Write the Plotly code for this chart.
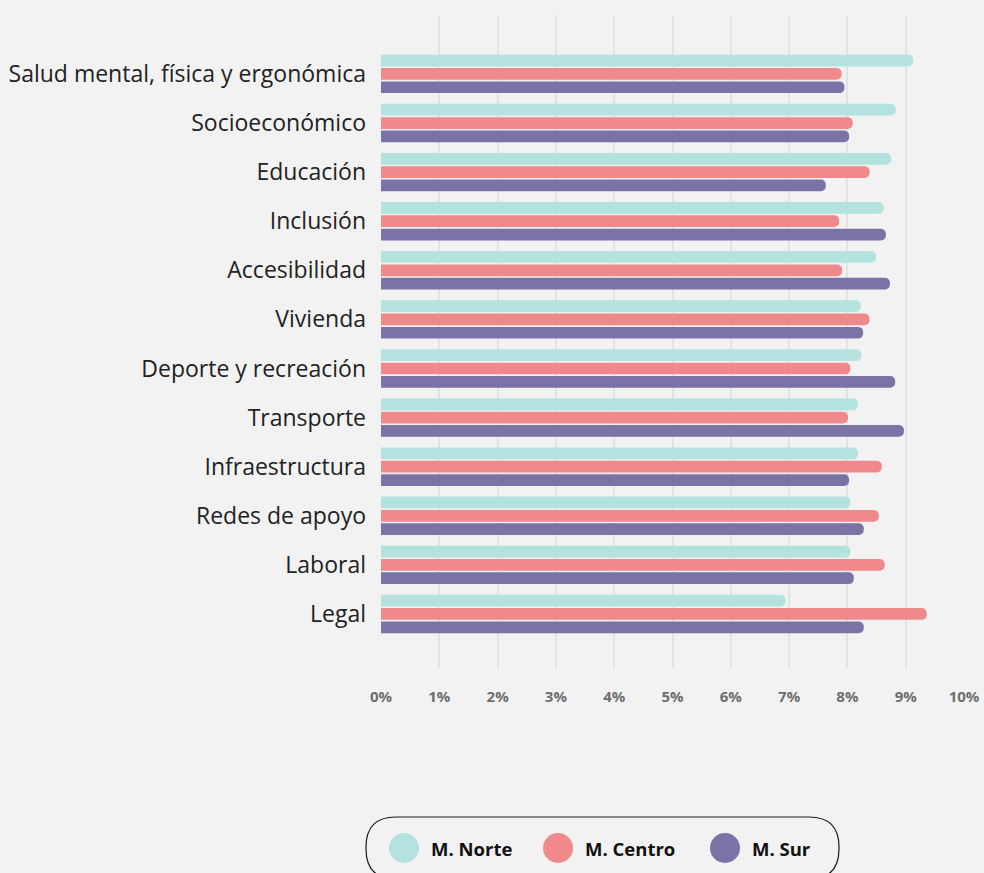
import plotly.graph_objects as go

# Categories (top to bottom) and shares per region, in %
categories = [
    "Salud mental, física y ergonómica",
    "Socioeconómico",
    "Educación",
    "Inclusión",
    "Accesibilidad",
    "Vivienda",
    "Deporte y recreación",
    "Transporte",
    "Infraestructura",
    "Redes de apoyo",
    "Laboral",
    "Legal",
]
norte = [9.13, 8.83, 8.75, 8.62, 8.49, 8.23, 8.24, 8.18, 8.18, 8.05, 8.05, 6.94]
centro = [7.90, 8.09, 8.38, 7.86, 7.91, 8.38, 8.05, 8.01, 8.59, 8.54, 8.64, 9.36]
sur = [7.95, 8.03, 7.63, 8.66, 8.73, 8.27, 8.82, 8.97, 8.03, 8.28, 8.11, 8.28]

series_names = ["M. Norte", "M. Centro", "M. Sur"]
series_values = [norte, centro, sur]
series_colors = ["#b3e2df", "#f0898b", "#7a73a6"]

x_ticks = list(range(0, 11))
x_tick_labels = [f"{t}%" for t in x_ticks]

W, H = 984, 873
ML, MR, MT, MB = 381, 20, 15, 205
PW, PH = W - ML - MR, H - MT - MB

# bars start slightly left of 0 so the rounded left corners are clipped away
PAD = 0.12

fig = go.Figure()
for name, vals, col in zip(series_names, series_values, series_colors):
    fig.add_trace(go.Bar(
        y=categories,
        x=[v + PAD for v in vals],
        base=-PAD,
        customdata=vals,
        orientation="h",
        name=name,
        marker=dict(color=col, cornerradius=6, line=dict(width=0)),
        hovertemplate="%{y}: %{customdata:.2f}%<extra>" + name + "</extra>",
        showlegend=False,
    ))


def px_x(px):
    return (px - ML) / PW


def px_y(py):
    return (H - MB - py) / PH


# custom pill-shaped legend with large round keys
shapes = []
annotations = []
x0, x1, y0, y1, r = 366, 839, 817, 879, 30
path = (
    f"M {px_x(x0 + r)},{px_y(y0)} L {px_x(x1 - r)},{px_y(y0)} "
    f"Q {px_x(x1)},{px_y(y0)} {px_x(x1)},{px_y(y0 + r)} "
    f"L {px_x(x1)},{px_y(y1 - r)} "
    f"Q {px_x(x1)},{px_y(y1)} {px_x(x1 - r)},{px_y(y1)} "
    f"L {px_x(x0 + r)},{px_y(y1)} "
    f"Q {px_x(x0)},{px_y(y1)} {px_x(x0)},{px_y(y1 - r)} "
    f"L {px_x(x0)},{px_y(y0 + r)} "
    f"Q {px_x(x0)},{px_y(y0)} {px_x(x0 + r)},{px_y(y0)} Z"
)
shapes.append(dict(type="path", xref="paper", yref="paper", path=path,
                   line=dict(color="#1a1a1a", width=1.2), fillcolor="rgba(0,0,0,0)"))

key_cx = [404, 558, 725]
key_cy = 848
key_r = 15
for cx, name, col in zip(key_cx, series_names, series_colors):
    shapes.append(dict(type="circle", xref="paper", yref="paper",
                       x0=px_x(cx - key_r), x1=px_x(cx + key_r),
                       y0=px_y(key_cy + key_r), y1=px_y(key_cy - key_r),
                       fillcolor=col, line=dict(width=0)))
    annotations.append(dict(x=px_x(cx + key_r + 10), y=px_y(key_cy), xref="paper", yref="paper",
                            xanchor="left", yanchor="middle", showarrow=False, text=name,
                            font=dict(family="Open Sans", size=18.5, color="#111111", weight=700)))

fig.update_layout(
    width=W, height=H,
    autosize=False,
    margin=dict(l=ML, r=MR, t=MT, b=MB, autoexpand=False),
    paper_bgcolor="#f2f2f2",
    plot_bgcolor="#f2f2f2",
    barmode="group",
    bargap=0.185,
    bargroupgap=0.12,
    shapes=shapes,
    annotations=annotations,
    showlegend=False,
    xaxis=dict(
        range=[0, 10],
        tickvals=x_ticks,
        ticktext=x_tick_labels,
        showgrid=True,
        gridcolor="#e3e3e3",
        gridwidth=1.5,
        zeroline=False,
        showline=False,
        ticks="",
        automargin=False,
        ticklabelstandoff=18,
        tickfont=dict(family="Open Sans", size=15, color="#6e6e6e", weight=700),
    ),
    yaxis=dict(
        categoryorder="array",
        categoryarray=categories,
        range=[12.1, -1.2],
        showgrid=False,
        zeroline=False,
        showline=False,
        ticks="",
        automargin=False,
        ticklabelstandoff=14,
        tickfont=dict(family="Open Sans", size=23, color="#222222"),
    ),
)

fig.write_html("out.html")
